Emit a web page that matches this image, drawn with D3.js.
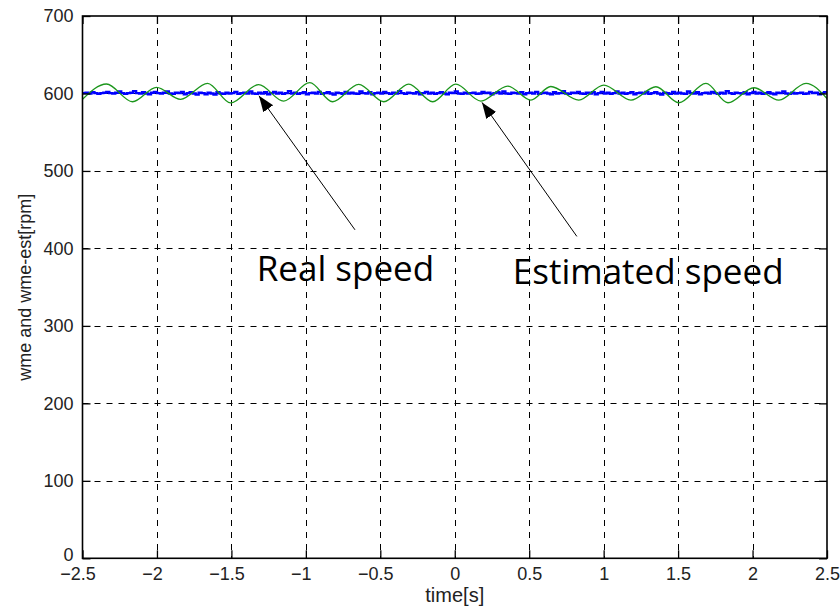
<!DOCTYPE html>
<html>
<head>
<meta charset="utf-8">
<script src="https://cdn.jsdelivr.net/npm/d3@7"></script>
<style>
  html, body { margin: 0; padding: 0; background: #fff; }
  svg { display: block; }
  .tick text { font-family: "Liberation Sans", Arial, sans-serif; font-size: 18px; fill: #222; }
  .axis-title { font-family: "Liberation Sans", Arial, sans-serif; fill: #222; }
  .note { font-family: "Open Sans", "Noto Sans", sans-serif; font-size: 35px; fill: #000; }
</style>
</head>
<body>
<svg id="chart" width="840" height="613"></svg>
<script>
// Axis ticks and their labels
const timeTicks = [-2.5, -2, -1.5, -1, -0.5, 0, 0.5, 1, 1.5, 2, 2.5];
const timeTickLabels = ["\u22122.5", "\u22122", "\u22121.5", "\u22121", "\u22120.5", "0", "0.5", "1", "1.5", "2", "2.5"];
const speedTicks = [0, 100, 200, 300, 400, 500, 600, 700];
const speedTickLabels = ["0", "100", "200", "300", "400", "500", "600", "700"];

// Real speed wme [rpm], sampled every 0.02 s from t = -2.5 s
const realStart = -2.5;
const realStep = 0.02;
const realSpeed = [
  600.5, 601, 600, 601.5, 600.5, 599.5, 600.5, 601, 602, 600.5,
  600, 601, 602.5, 600.5, 599.5, 600.5, 601, 603, 600.5, 600,
  601.5, 600, 599, 601, 602, 600.5, 600, 601, 602.5, 600,
  599.5, 601, 600.5, 602, 599, 600.5, 601.5, 600, 598.5, 601,
  600.5, 599, 601, 600, 598.5, 601.5, 600, 599.5, 601, 600,
  600.5, 602, 599.5, 600.5, 601, 600, 602.5, 600, 599.5, 601,
  600, 601.5, 599, 600.5, 602, 600, 601, 599.5, 600.5, 603,
  600, 601, 599.5, 600.5, 601.5, 599, 600.5, 601, 600, 602,
  599.5, 600.5, 601.5, 600, 598.5, 601, 600.5, 599.5, 602, 600,
  601, 600, 599.5, 602.5, 600.5, 600, 601.5, 599, 600.5, 601,
  600, 602, 600.5, 599.5, 601, 600, 603, 600.5, 599.5, 601,
  600.5, 600, 601.5, 599, 600.5, 602, 600, 601, 599.5, 600.5,
  601.5, 600, 599, 601, 600.5, 602.5, 600, 599.5, 601, 600,
  600.5, 601, 599.5, 600, 602, 600.5, 601, 599, 600.5, 601.5,
  600, 602.5, 600, 599.5, 601, 600.5, 600, 601.5, 599, 600.5,
  601, 600, 602, 599.5, 600.5, 601, 600, 599, 601.5, 600,
  600.5, 603, 600, 599.5, 601, 600.5, 602, 600, 599.5, 601,
  600, 601.5, 599, 600.5, 602, 600, 601, 599.5, 600.5, 602.5,
  600, 601, 599.5, 600.5, 601.5, 599, 600.5, 601, 600, 602,
  599.5, 600.5, 601.5, 600, 598.5, 601, 600.5, 599.5, 602, 600,
  601, 600, 599.5, 602.5, 600.5, 600, 601.5, 599, 600.5, 601,
  600, 602, 600.5, 599.5, 601, 600, 603, 600.5, 599.5, 601,
  600.5, 600, 601.5, 599, 600.5, 602, 600, 601, 599.5, 600.5,
  601.5, 600, 599, 601, 600.5, 602.5, 600, 599.5, 601, 600,
  600.5, 601, 599.5, 600, 602, 600.5, 601, 599, 600.5, 601.5,
  600
];

// Estimated speed wme-est [rpm]: turning points of the oscillation
const estTime = [
  -2.5, -2.339, -2.164, -2.003, -1.841, -1.66, -1.505, -1.317, -1.149, -0.974,
  -0.82, -0.645, -0.477, -0.309, -0.148, 0.007, 0.175, 0.356, 0.511, 0.645,
  0.833, 1.001, 1.183, 1.351, 1.505, 1.687, 1.835, 2.009, 2.177, 2.359, 2.5
];
const estSpeed = [
  592.5, 612.2, 589.3, 607.9, 592.4, 613.1, 587.8, 611.5, 590.1, 613.9,
  589.3, 611.8, 589.3, 612.0, 589.3, 612.0, 590.2, 609.6, 591.5, 609.0,
  591.5, 610.9, 591.5, 608.7, 588.0, 613.1, 588.0, 607.4, 591.5, 613.1, 593.4
];

// Annotation labels with their arrows, in data units
const noteText = ["Real speed", "Estimated speed"];
const noteTextPos = [[-1.33, 357.5], [0.39, 354]];
const noteArrowTail = [[-0.67, 424], [0.82, 415.5]];
const noteArrowTip = [[-1.315, 597], [0.183, 588.5]];

const svg = d3.select("#chart");
const plotLeft = 82.5, plotRight = 827, plotTop = 16, plotBottom = 558.3;

const x = d3.scaleLinear().domain([-2.5, 2.5]).range([plotLeft, plotRight]);
const y = d3.scaleLinear().domain([0, 700]).range([plotBottom, plotTop]);

// Dashed grid
const grid = svg.append("g").attr("stroke", "#000").attr("stroke-width", 1)
  .attr("stroke-dasharray", "6,6").attr("fill", "none");
grid.selectAll("line.v").data(timeTicks.slice(1, -1)).join("line")
  .attr("class", "v")
  .attr("x1", d => Math.round(x(d)) + 0.5).attr("x2", d => Math.round(x(d)) + 0.5)
  .attr("y1", plotTop).attr("y2", plotBottom);
grid.selectAll("line.h").data(speedTicks.slice(1, -1)).join("line")
  .attr("class", "h")
  .attr("y1", d => Math.round(y(d)) + 0.5).attr("y2", d => Math.round(y(d)) + 0.5)
  .attr("x1", plotLeft).attr("x2", plotRight);

// Traces
svg.append("clipPath").attr("id", "plotClip")
  .append("rect").attr("x", plotLeft).attr("y", plotTop)
  .attr("width", plotRight - plotLeft).attr("height", plotBottom - plotTop);

const realLine = d3.line()
  .x((d, i) => x(realStart + i * realStep))
  .y(d => y(d))
  .curve(d3.curveStepAfter);
svg.append("path")
  .datum(realSpeed)
  .attr("clip-path", "url(#plotClip)")
  .attr("fill", "none")
  .attr("stroke", "#0000ff")
  .attr("stroke-width", 2.4)
  .attr("d", realLine);

const estLine = d3.line()
  .x(d => x(d[0]))
  .y(d => y(d[1]))
  .curve(d3.curveMonotoneX);
svg.append("path")
  .datum(estTime.map((t, i) => [t, estSpeed[i]]))
  .attr("clip-path", "url(#plotClip)")
  .attr("fill", "none")
  .attr("stroke", "#1c961c")
  .attr("stroke-width", 1.3)
  .attr("d", estLine);

// Axes: box with inward ticks
function styleAxis(g) {
  g.select(".domain").remove();
  g.selectAll(".tick line").attr("stroke", "#000").attr("stroke-width", 1.3);
}
svg.append("g").attr("transform", `translate(0,${plotBottom})`)
  .call(d3.axisBottom(x).tickValues(timeTicks).tickSize(-8).tickPadding(9)
    .tickFormat((d, i) => timeTickLabels[i]))
  .call(styleAxis)
  // the minus sign hangs left of the centred digits
  .call(g => g.selectAll(".tick text")
    .attr("dx", (d, i) => timeTickLabels[i].startsWith("\u2212") ? -5 : 0));
svg.append("g").attr("transform", `translate(0,${plotTop})`)
  .call(d3.axisTop(x).tickValues(timeTicks).tickSize(-8).tickFormat(""))
  .call(styleAxis);
svg.append("g").attr("transform", `translate(${plotLeft},0)`)
  .call(d3.axisLeft(y).tickValues(speedTicks).tickSize(-8).tickPadding(9)
    .tickFormat((d, i) => speedTickLabels[i]))
  .call(styleAxis)
  // the zero label sits slightly above the corner
  .call(g => g.selectAll(".tick text")
    .attr("dy", d => d === 0 ? "0.12em" : "0.32em"));
svg.append("g").attr("transform", `translate(${plotRight},0)`)
  .call(d3.axisRight(y).tickValues(speedTicks).tickSize(-8).tickFormat(""))
  .call(styleAxis);

svg.append("rect")
  .attr("x", plotLeft).attr("y", plotTop)
  .attr("width", plotRight - plotLeft).attr("height", plotBottom - plotTop)
  .attr("fill", "none").attr("stroke", "#000").attr("stroke-width", 1.6);

// Axis titles
svg.append("text").attr("class", "axis-title")
  .attr("x", (plotLeft + plotRight) / 2).attr("y", 602)
  .attr("text-anchor", "middle").attr("font-size", 20)
  .text("time[s]");
svg.append("text").attr("class", "axis-title")
  .attr("transform", `translate(31,${(plotTop + plotBottom) / 2}) rotate(-90)`)
  .attr("text-anchor", "middle").attr("font-size", 18)
  .text("wme and wme-est[rpm]");

// Annotations
svg.append("defs").append("marker")
  .attr("id", "arrowHead")
  .attr("markerUnits", "userSpaceOnUse")
  .attr("markerWidth", 18).attr("markerHeight", 14)
  .attr("refX", 16).attr("refY", 6)
  .attr("orient", "auto")
  .append("path").attr("d", "M0,0 L16,6 L0,12 Z").attr("fill", "#000");

const notes = svg.append("g");
notes.selectAll("line").data(noteArrowTail).join("line")
  .attr("x1", d => x(d[0])).attr("y1", d => y(d[1]))
  .attr("x2", (d, i) => x(noteArrowTip[i][0])).attr("y2", (d, i) => y(noteArrowTip[i][1]))
  .attr("stroke", "#000").attr("stroke-width", 1)
  .attr("marker-end", "url(#arrowHead)");
notes.selectAll("text").data(noteText).join("text")
  .attr("class", "note")
  .attr("x", (d, i) => x(noteTextPos[i][0]))
  .attr("y", (d, i) => y(noteTextPos[i][1]))
  .text(d => d);
</script>
</body>
</html>
